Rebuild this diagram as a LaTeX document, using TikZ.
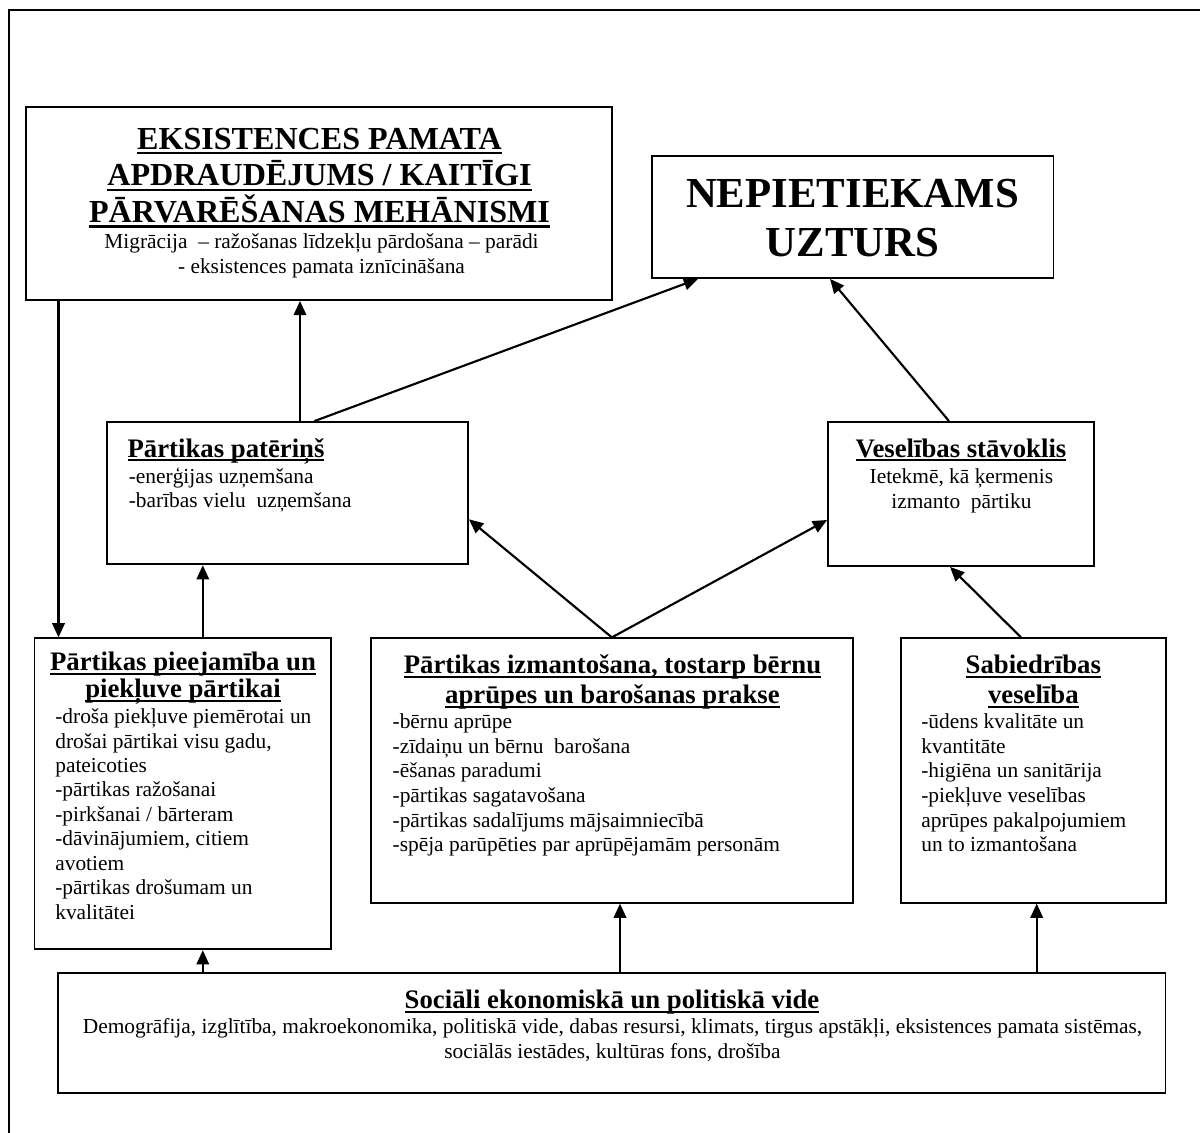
\documentclass[tikz,border=0pt]{standalone}
\usepackage{fontspec}
\setmainfont{Liberation Serif}
\usetikzlibrary{arrows.meta,fit}

\newcommand\ulin[1]{\setbox0=\hbox{#1}\rlap{\rule[-0.16em]{\wd0}{0.07em}}\box0}
\newcommand\tops{\rule{0pt}{1em}}

\tikzset{
  box/.style={draw, line width=1pt, inner sep=0pt},
  hd/.style={inner sep=0pt, align=center, font=\fontsize{15}{16.8}\bfseries},
  txt/.style={inner sep=0pt, font=\fontsize{12}{13.8}\selectfont},
  arr/.style={line width=1.2pt, -{Triangle[length=8pt,width=7pt]}}
}

\begin{document}
\begin{tikzpicture}[x=0.561pt,y=-0.561pt]
\useasboundingbox (0,0) rectangle (1200,1133);
\draw[line width=1.1pt] (1200,10) -- (9,10) -- (9,1133);

\node[box, fit={(26,107) (612,300)}] (sec) {};
\node[box, fit={(652,156) (1053.5,278)}] (nutr) {};
\node[box, fit={(107,422) (468,564.3)}] (cons) {};
\node[box, fit={(828,422) (1094,566)}] (hlth) {};
\node[box, fit={(34.5,638.3) (331,949.3)}] (avail) {};
\node[box, fit={(371,638.3) (852.7,902.7)}] (util) {};
\node[box, fit={(900.7,638.3) (1165.7,902.7)}] (pub) {};
\node[box, fit={(58.2,973.3) (1165.5,1093.3)}] (env) {};

\node[anchor=north, inner sep=0pt, align=center, font=\fontsize{18}{20.5}\bfseries] (sec-h) at (319.5,116.9)
  {\tops\ulin{EKSISTENCES PAMATA}\\\ulin{APDRAUDĒJUMS / KAITĪGI}\\\ulin{PĀRVARĒŠANAS MEHĀNISMI}};
\node[txt, anchor=north, align=center, font=\fontsize{12}{14}\selectfont] (sec-b) at (321.5,226.6)
  {\tops Migrācija \ -- ražošanas līdzekļu pārdošana -- parādi\\- eksistences pamata iznīcināšana};

\node[anchor=north, inner sep=0pt, align=center, font=\fontsize{24}{28}\bfseries] (nutr-h) at (852.5,163.9)
  {\tops NEPIETIEKAMS\\UZTURS};

\node[hd, anchor=north west] (cons-h) at (127.3,430) {\tops\ulin{Pārtikas patēriņš}};
\node[txt, anchor=north west, align=left] (cons-b) at (128.5,461.3)
  {\tops -enerģijas uzņemšana\\-barības vielu \ uzņemšana};

\node[hd, anchor=north] (hlth-h) at (961,430) {\tops\ulin{Veselības stāvoklis}};
\node[txt, anchor=north, align=center, font=\fontsize{12}{14}\selectfont] (hlth-b) at (961.4,461.6)
  {\tops Ietekmē, kā ķermenis\\izmanto \ pārtiku};

\node[hd, anchor=north, font=\fontsize{15}{15.2}\bfseries] (avail-h) at (183,643.8)
  {\tops\ulin{Pārtikas pieejamība un}\\\ulin{piekļuve pārtikai}};
\node[txt, anchor=north west, align=left, font=\fontsize{12}{13.7}\selectfont] (avail-b) at (55,701.9)
  {\tops -droša piekļuve piemērotai un\\drošai pārtikai visu gadu,\\pateicoties\\-pārtikas ražošanai\\-pirkšanai / bārteram\\-dāvinājumiem, citiem\\avotiem\\-pārtikas drošumam un\\kvalitātei};

\node[hd, anchor=north] (util-h) at (612.5,646.6)
  {\tops\ulin{Pārtikas izmantošana, tostarp bērnu}\\\ulin{aprūpes un barošanas prakse}};
\node[txt, anchor=north west, align=left] (util-b) at (392.3,706.9)
  {\tops -bērnu aprūpe\\-zīdaiņu un bērnu \ barošana\\-ēšanas paradumi\\-pārtikas sagatavošana\\-pārtikas sadalījums mājsaimniecībā\\-spēja parūpēties par aprūpējamām personām};

\node[hd, anchor=north] (pub-h) at (1033.3,646.3) {\tops\ulin{Sabiedrības}\\\ulin{veselība}};
\node[txt, anchor=north west, align=left] (pub-b) at (921,706.9)
  {\tops -ūdens kvalitāte un\\kvantitāte\\-higiēna un sanitārija\\-piekļuve veselības\\aprūpes pakalpojumiem\\un to izmantošana};

\node[hd, anchor=north] (env-h) at (612,981.3) {\tops\ulin{Sociāli ekonomiskā un politiskā vide}};
\node[txt, anchor=north, align=center, font=\fontsize{12}{14}\selectfont] (env-b) at (612.5,1011.6)
  {\tops Demogrāfija, izglītība, makroekonomika, politiskā vide, dabas resursi, klimats, tirgus apstākļi, eksistences pamata sistēmas,\\sociālās iestādes, kultūras fons, drošība};

\draw[arr] (sec.south -| 58.5,0) -- (avail.north -| 58.5,0);
\draw[arr] (cons.north -| 300,0) -- (sec.south -| 300,0);
\draw[arr] (cons.north -| 314.4,0) -- (nutr.south -| 698,0);
\draw[arr] (hlth.north -| 949,0) -- (nutr.south -| 830,0);
\draw[arr] (util.north) -- (cons.east |- 0,519.3);
\draw[arr] (util.north) -- (hlth.west |- 0,520);
\draw[arr] (pub.north -| 1021,0) -- (hlth.south -| 950,0);
\draw[arr] (avail.north -| 202.8,0) -- (cons.south -| 202.8,0);
\draw[arr] (env.north -| 202.8,0) -- (avail.south -| 202.8,0);
\draw[arr] (env.north -| 620,0) -- (util.south -| 620,0);
\draw[arr] (env.north -| 1036.7,0) -- (pub.south -| 1036.7,0);
\end{tikzpicture}
\end{document}
